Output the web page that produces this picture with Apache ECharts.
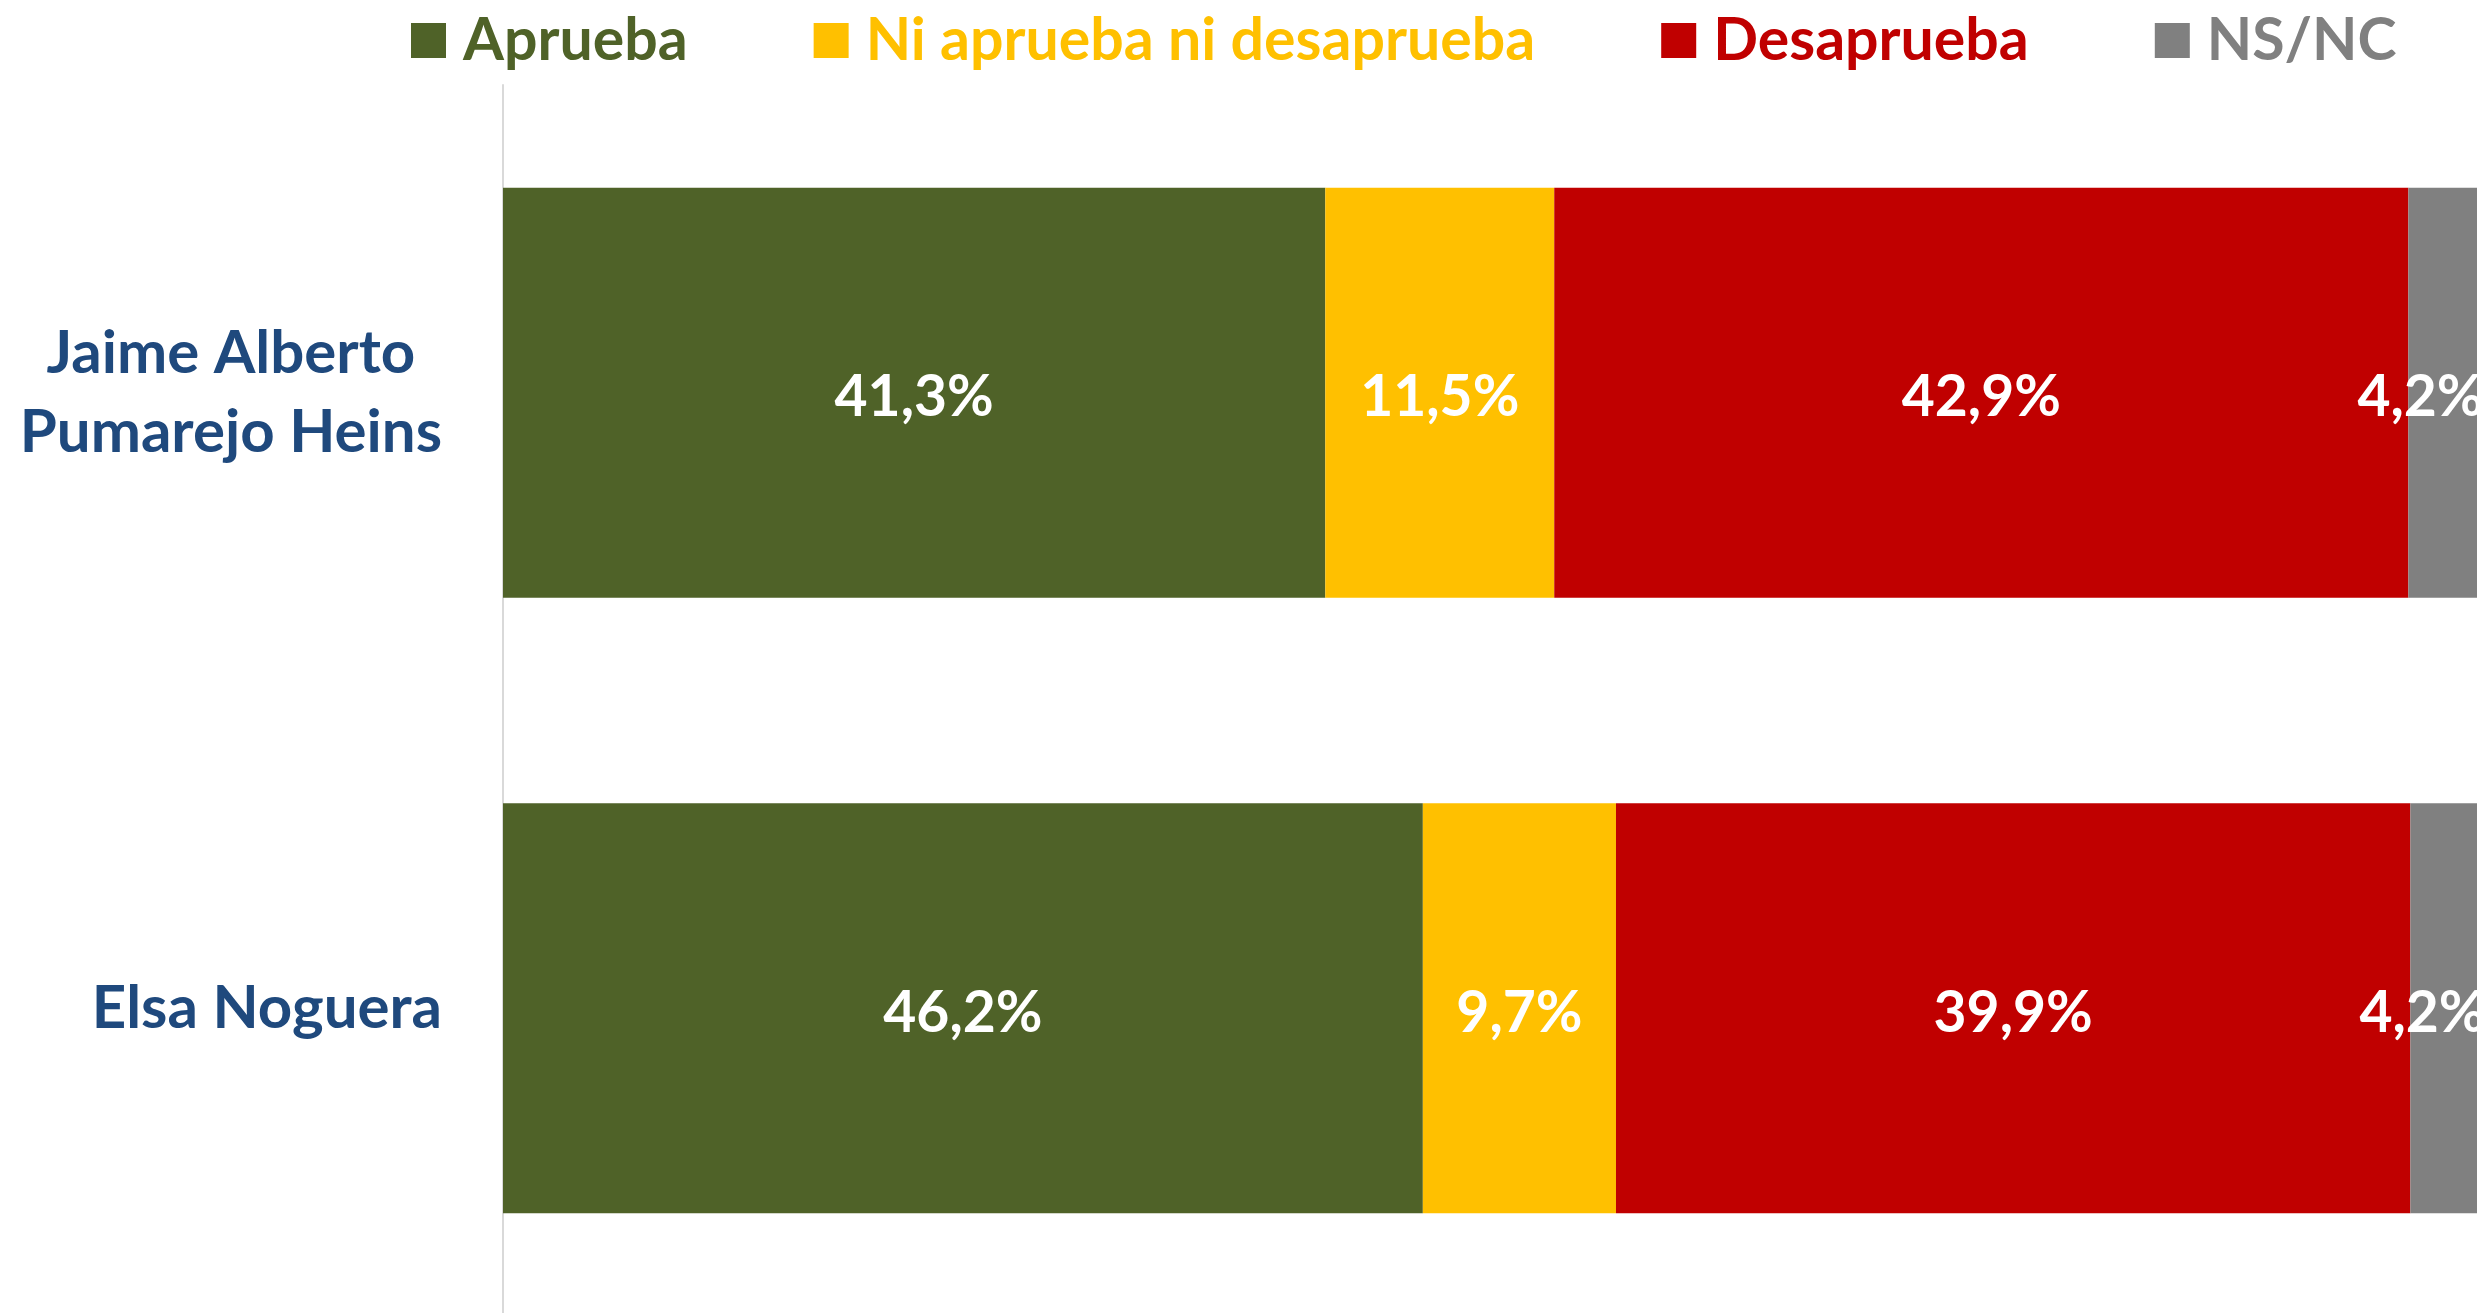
<!DOCTYPE html>
<html>
<head>
<meta charset="utf-8">
<script src="https://cdn.jsdelivr.net/npm/echarts@6/dist/echarts.min.js"></script>
<style>
    html, body { margin: 0; padding: 0; background: #fff; overflow: hidden; }
    /* el grafico original es un poco mas ancho y alto que la ventana: el 100% queda recortado */
    #chart { width: 2494px; height: 1316px; }
</style>
</head>
<body>
<div id="chart"></div>
<script>
// datos
var categorias = ['Jaime Alberto\nPumarejo Heins', 'Elsa Noguera'];
var series_nombres = ['Aprueba', 'Ni aprueba ni desaprueba', 'Desaprueba', 'NS/NC'];
var aprueba = [41.3, 46.2];
var ni_ni = [11.5, 9.7];
var desaprueba = [42.9, 39.9];
var nsnc = [4.2, 4.2];
var colores = ['#4F6228', '#FFC000', '#C00000', '#808080'];

var fuente = 'Lato, "Open Sans", sans-serif';

var myChart = echarts.init(document.getElementById('chart'));

function etiqueta(p) {
    return p.value.toFixed(1).replace('.', ',') + '%';
}

function serie(nombre, datos, color, extraLabel) {
    var label = {
        show: true,
        position: 'inside',
        offset: [0, 5],
        color: '#fff',
        fontFamily: fuente,
        fontWeight: 'bold',
        fontSize: 57,
        formatter: etiqueta
    };
    if (extraLabel) {
        for (var k in extraLabel) label[k] = extraLabel[k];
    }
    return {
        name: nombre,
        type: 'bar',
        stack: 'total',
        barCategoryGap: '33.4%',
        data: datos,
        itemStyle: { color: color },
        label: label,
        emphasis: { disabled: true }
    };
}

var option = {
    animation: false,
    textStyle: { fontFamily: fuente },
    legend: {
        left: 406,
        top: 6,
        itemWidth: 35,
        itemHeight: 35,
        itemGap: 126,
        icon: 'rect',
        textStyle: {
            fontFamily: fuente,
            fontWeight: 'bold',
            fontSize: 59,
            lineHeight: 36,
            padding: [0, 0, 0, 12]
        },
        data: series_nombres.map(function (n, i) {
            return { name: n, textStyle: { color: colores[i] } };
        })
    },
    grid: {
        left: 503,
        right: 0,
        top: 85,
        bottom: 0,
        containLabel: false
    },
    xAxis: {
        type: 'value',
        min: 0,
        max: 100,
        show: false
    },
    yAxis: {
        type: 'category',
        inverse: true,
        data: categorias,
        axisLine: { show: true, lineStyle: { color: '#D9D9D9', width: 2 } },
        axisTick: { show: false },
        axisLabel: {
            margin: 61,
            align: 'right',
            formatter: function (v) {
                return v.split('\n').map(function (l) { return '{c|' + l + '}'; }).join('\n');
            },
            rich: {
                c: {
                    align: 'center',
                    color: '#1F497D',
                    fontFamily: fuente,
                    fontWeight: 'bold',
                    fontSize: 60,
                    lineHeight: 79
                }
            }
        }
    },
    series: [
        serie(series_nombres[0], aprueba, colores[0]),
        serie(series_nombres[1], ni_ni, colores[1]),
        serie(series_nombres[2], desaprueba, colores[2]),
        serie(series_nombres[3], nsnc, colores[3], { position: 'insideLeft', offset: [-56, 5] })
    ]
};

myChart.setOption(option);
</script>
</body>
</html>
